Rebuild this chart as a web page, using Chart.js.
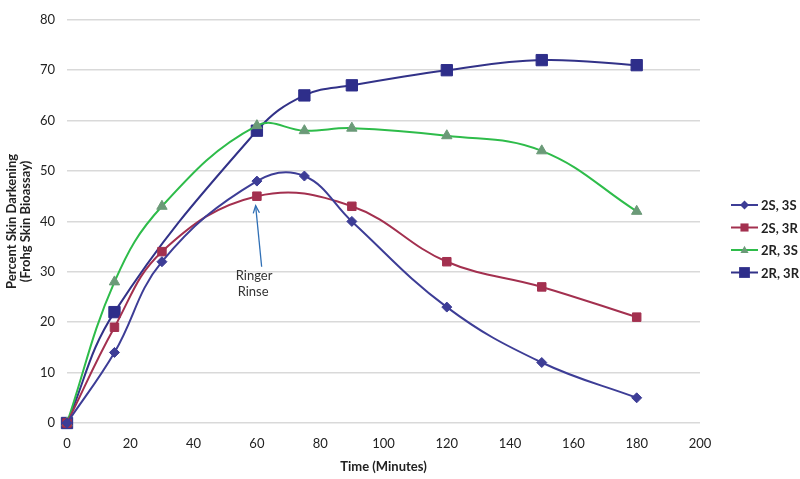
<!DOCTYPE html>
<html>
<head>
<meta charset="utf-8">
<script src="https://cdn.jsdelivr.net/npm/chart.js@4.4.1/dist/chart.umd.min.js"></script>
<style>
html,body{margin:0;padding:0;background:#fff;}
#wrap{width:800px;height:479px;position:relative;}
</style>
</head>
<body>
<div id="wrap"><canvas id="c" width="800" height="479"></canvas></div>
<script>
// Data
const seriesNames = ["2S, 3S", "2S, 3R", "2R, 3S", "2R, 3R"];
const x_2S3S = [0, 15, 30, 60, 75, 90, 120, 150, 180];
const y_2S3S = [0, 14, 32, 48, 49, 40, 23, 12, 5];
const x_2S3R = [0, 15, 30, 60, 90, 120, 150, 180];
const y_2S3R = [0, 19, 34, 45, 43, 32, 27, 21];
const x_2R3S = [0, 15, 30, 60, 75, 90, 120, 150, 180];
const y_2R3S = [0, 28, 43, 59, 58, 58.5, 57, 54, 42];
const x_2R3R = [0, 15, 60, 75, 90, 120, 150, 180];
const y_2R3R = [0, 22, 58, 65, 67, 70, 72, 71];
const xTicks = [0, 20, 40, 60, 80, 100, 120, 140, 160, 180, 200];
const yTicks = [0, 10, 20, 30, 40, 50, 60, 70, 80];
const annotationLines = ["Ringer", "Rinse"];
const annotationTextPos = [{x: 59.1, y: 29.2}, {x: 58.8, y: 26.0}];
const annotationTarget = {x: 59.6, y: 43.1};
const annotationStart = {x: 61.5, y: 31.0};

const pts = (xs, ys) => xs.map((x, i) => ({x: x, y: ys[i]}));

const styles = [
  {line: '#3d3d96', fill: '#3d3d96', point: 'rectRot', r: 5, w: 2},
  {line: '#a3304f', fill: '#a3304f', point: 'rect', r: 6, w: 2},
  {line: '#2ebc4a', fill: '#6b9a78', point: 'triangle', r: 6, w: 2},
  {line: '#323288', fill: '#2e2e8a', point: 'rect', r: 8, w: 2}
];
const dataArr = [pts(x_2S3S, y_2S3S), pts(x_2S3R, y_2S3R), pts(x_2R3S, y_2R3S), pts(x_2R3R, y_2R3R)];

const datasets = seriesNames.map((n, i) => ({
  label: n,
  data: dataArr[i],
  borderColor: styles[i].line,
  backgroundColor: styles[i].fill,
  pointBackgroundColor: styles[i].fill,
  pointBorderColor: styles[i].fill,
  pointStyle: styles[i].point,
  pointRadius: styles[i].r,
  pointBorderWidth: 1,
  borderWidth: styles[i].w,
  tension: 0.4,
  fill: false,
  clip: false
}));

const FONT = "Lato, 'Open Sans', sans-serif";

const extras = {
  id: 'extras',
  afterDatasetsDraw(chart) {
    const ctx = chart.ctx;
    const xs = chart.scales.x, ys = chart.scales.y;
    const x1 = xs.getPixelForValue(annotationStart.x), y1 = ys.getPixelForValue(annotationStart.y);
    const x2 = xs.getPixelForValue(annotationTarget.x), y2 = ys.getPixelForValue(annotationTarget.y);
    ctx.save();
    ctx.strokeStyle = '#2f6fb5';
    ctx.lineWidth = 1.3;
    ctx.beginPath(); ctx.moveTo(x1, y1); ctx.lineTo(x2, y2); ctx.stroke();
    const ang = Math.atan2(y2 - y1, x2 - x1);
    const L = 8;
    ctx.beginPath();
    ctx.moveTo(x2 - L * Math.cos(ang - 0.4), y2 - L * Math.sin(ang - 0.4));
    ctx.lineTo(x2, y2);
    ctx.lineTo(x2 - L * Math.cos(ang + 0.4), y2 - L * Math.sin(ang + 0.4));
    ctx.stroke();
    ctx.fillStyle = '#333';
    ctx.font = "13px " + FONT;
    ctx.textAlign = 'center';
    ctx.textBaseline = 'middle';
    annotationLines.forEach((t, i) => {
      ctx.fillText(t, xs.getPixelForValue(annotationTextPos[i].x), ys.getPixelForValue(annotationTextPos[i].y));
    });
    // legend
    const lx = 731, baseY = 205, step = 22.5;
    chart.data.datasets.forEach((ds, i) => {
      const y = baseY + i * step;
      ctx.strokeStyle = ds.borderColor;
      ctx.lineWidth = 2;
      ctx.beginPath(); ctx.moveTo(lx, y); ctx.lineTo(lx + 27, y); ctx.stroke();
      const st = styles[i];
      const r = st.r * 0.9;
      ctx.fillStyle = st.fill;
      const cx = lx + 13.5;
      ctx.beginPath();
      if (st.point === 'rectRot') {
        ctx.moveTo(cx, y - r); ctx.lineTo(cx + r, y); ctx.lineTo(cx, y + r); ctx.lineTo(cx - r, y); ctx.closePath();
      } else if (st.point === 'rect') {
        const s = r * 0.75;
        ctx.rect(cx - s, y - s, 2 * s, 2 * s);
      } else {
        ctx.moveTo(cx, y - r * 0.8); ctx.lineTo(cx + r * 0.75, y + r * 0.55); ctx.lineTo(cx - r * 0.75, y + r * 0.55); ctx.closePath();
      }
      ctx.fill();
      ctx.fillStyle = '#222';
      ctx.font = "bold 13px " + FONT;
      ctx.textAlign = 'left';
      ctx.fillText(ds.label, lx + 30, y + 1);
    });
    ctx.restore();
  }
};

new Chart(document.getElementById('c'), {
  type: 'line',
  data: {datasets: datasets},
  options: {
    responsive: false,
    animation: false,
    layout: {padding: {left: 0, right: 100, top: 15, bottom: 0}},
    plugins: {legend: {display: false}, tooltip: {enabled: false}},
    scales: {
      x: {
        type: 'linear', min: 0, max: 200,
        afterBuildTicks: s => { s.ticks = xTicks.map(v => ({value: v})); },
        afterFit: s => { s.height = 56; },
        grid: {display: false, drawTicks: false},
        border: {display: false},
        ticks: {color: '#222', font: {family: FONT, size: 13}, padding: 13, maxRotation: 0},
        title: {display: true, text: 'Time (Minutes)', color: '#222', font: {family: FONT, size: 13, weight: 'bold'}, padding: {top: 5}}
      },
      y: {
        min: 0, max: 80,
        afterBuildTicks: s => { s.ticks = yTicks.map(v => ({value: v})); },
        afterFit: s => { s.width = 67; },
        grid: {color: '#d9d9d9', lineWidth: 1.5, drawTicks: false},
        border: {display: false},
        ticks: {color: '#222', font: {family: FONT, size: 13}, padding: 12},
        title: {display: true, text: ['Percent Skin Darkening', '(Frohg Skin Bioassay)'], color: '#222', font: {family: FONT, size: 13, weight: 'bold', lineHeight: 1.05}, padding: {top: 5, bottom: 0}}
      }
    }
  },
  plugins: [extras]
});
</script>
</body>
</html>
